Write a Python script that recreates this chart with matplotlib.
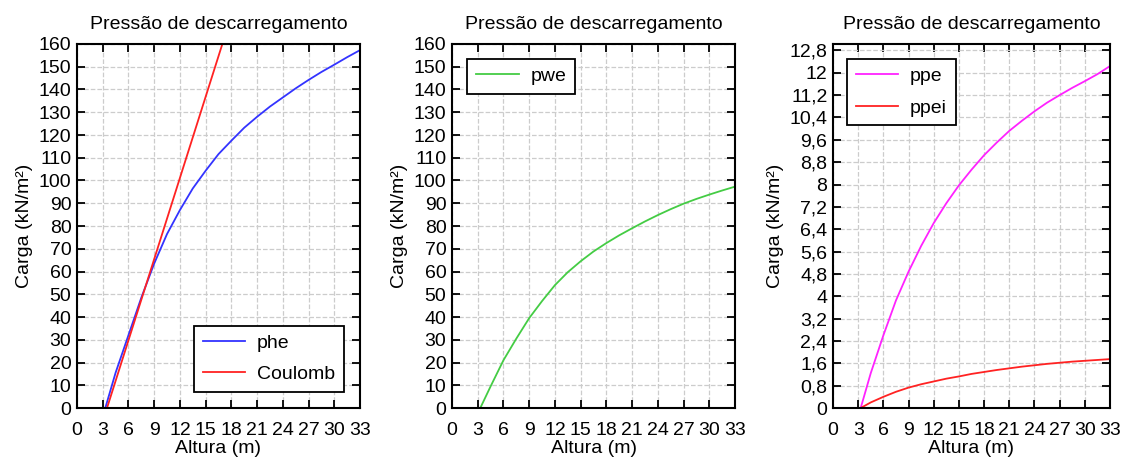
import matplotlib
matplotlib.use("Agg")
import matplotlib.pyplot as plt
import numpy as np

plt.rcParams['font.family'] = ['Liberation Sans', 'DejaVu Sans']
plt.rcParams['font.size'] = 14

# Altura (m) sample points
altura = [3.3, 4.5, 6, 7.5, 9, 10.5, 12, 13.5, 15, 16.5, 18, 19.5, 21, 22.5, 24,
          25.5, 27, 28.5, 30, 31.5, 33]

# Panel 1
phe = [0, 15.5, 32, 48.5, 63.5, 76.5, 87, 96.5, 104.3, 111.6, 117.5, 123.2, 128,
       132.5, 136.5, 140.5, 144.2, 147.7, 150.9, 154.2, 157.3]
coulomb_x = [3.5, 16.95]
coulomb_y = [0, 160]

# Panel 2
pwe = [0, 9.5, 21, 30.5, 39.5, 47, 54, 59.7, 64.5, 68.8, 72.5, 75.9, 79, 82, 84.8,
       87.4, 89.8, 91.9, 93.8, 95.6, 97.3]

# Panel 3
ppe = [0, 1.25, 2.6, 3.85, 4.88, 5.8, 6.62, 7.33, 7.97, 8.53, 9.05, 9.5, 9.92,
       10.28, 10.62, 10.93, 11.2, 11.46, 11.7, 11.95, 12.24]
ppei = [0, 0.2, 0.4, 0.58, 0.73, 0.85, 0.95, 1.05, 1.13, 1.22, 1.29, 1.36, 1.42,
        1.48, 1.53, 1.58, 1.62, 1.66, 1.69, 1.72, 1.75]

fig = plt.figure(figsize=(11.26, 4.65), dpi=100)
bottom, top = 1 - 408 / 465, 1 - 44 / 465
lefts = [77, 452, 833]
rights = [360, 735, 1110]
axes = [fig.add_axes([l / 1126, bottom, (r - l) / 1126, top - bottom]) for l, r in zip(lefts, rights)]

ax1, ax2, ax3 = axes
ax1.plot(altura, phe, color='#3333ff', lw=1.3, label='phe')
ax1.plot(coulomb_x, coulomb_y, color='#ff2222', lw=1.3, label='Coulomb')
ax2.plot(altura, pwe, color='#44cc44', lw=1.3, label='pwe')
ax3.plot(altura, ppe, color='#ff22ff', lw=1.3, label='ppe')
ax3.plot(altura, ppei, color='#ff2222', lw=1.3, label='ppei')

for ax in (ax1, ax2):
    ax.set_ylim(0, 160)
    ax.set_yticks(np.arange(0, 161, 10))

ax3.set_ylim(0, 13.03)
yt = [round(0.8 * i, 1) for i in range(17)]
ax3.set_yticks(yt)
ax3.set_yticklabels([f"{v:g}".replace('.', ',') for v in yt])

for ax in axes:
    ax.set_xlim(0, 33)
    ax.set_xticks(np.arange(0, 34, 3))
    ax.set_title('Pressão de descarregamento', fontsize=14, pad=11)
    ax.set_xlabel('Altura (m)', labelpad=1)
    ax.set_ylabel('Carga (kN/m²)', labelpad=4)
    ax.grid(True, color='#cccccc', linestyle='--', linewidth=0.9)
    ax.tick_params(direction='in', top=True, right=True, length=6, width=1.3, labelsize=14, pad=4)
    ax.tick_params(axis='x', pad=10)
    for s in ax.spines.values():
        s.set_linewidth(1.5)

leg_kw = dict(fancybox=False, edgecolor='black', framealpha=1, handlelength=2.2,
              borderpad=0.45, labelspacing=0.7, handletextpad=0.6, fontsize=14,
              borderaxespad=0)
l1 = ax1.legend(loc='lower right', bbox_to_anchor=(0.943, 0.044), **leg_kw)
l2 = ax2.legend(loc='upper left', bbox_to_anchor=(0.053, 0.959), **leg_kw)
l3 = ax3.legend(loc='upper left', bbox_to_anchor=(0.05, 0.959), **leg_kw)
for lg in (l1, l2, l3):
    lg.get_frame().set_linewidth(1.3)

fig.savefig('out.png', dpi=100)
